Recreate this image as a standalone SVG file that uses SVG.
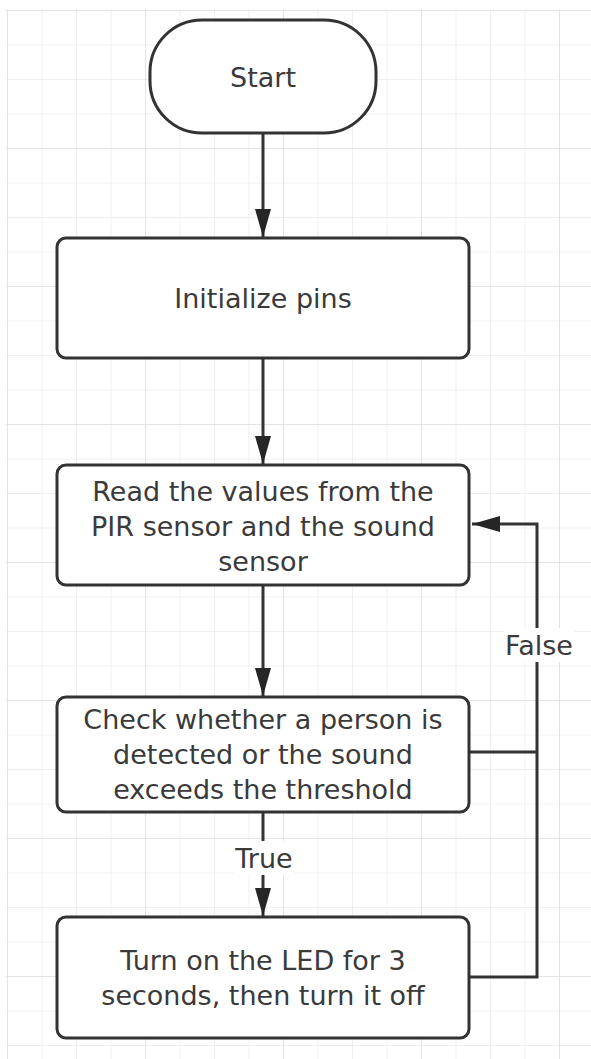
<svg xmlns="http://www.w3.org/2000/svg" width="591" height="1059" viewBox="0 0 591 1059">
  <defs>
    <!-- background grid: minor cells 34.5px, heavier line every 4 cells -->
    <pattern id="grid-minor" x="7" y="10" width="34.5" height="34.5" patternUnits="userSpaceOnUse">
      <path d="M 0 0 H 34.5 M 0 0 V 34.5" fill="none" stroke="#ebebeb" stroke-width="1.5"/>
    </pattern>
    <pattern id="grid-major" x="7" y="10" width="138" height="138" patternUnits="userSpaceOnUse">
      <path d="M 0 0 H 138 M 0 0 V 138" fill="none" stroke="#e1e1e1" stroke-width="1.5"/>
    </pattern>
    <marker id="arrow" viewBox="0 0 28 16" refX="28" refY="8" markerWidth="28" markerHeight="16" markerUnits="userSpaceOnUse" orient="auto">
      <path d="M 0 0 L 28 8 L 0 16 Z" fill="#262626"/>
    </marker>
    <style>
      .node { fill: #ffffff; stroke: #333333; stroke-width: 3; }
      .label { font-family: "DejaVu Sans", "Open Sans", sans-serif; font-size: 27px; fill: #3a3a3a; text-anchor: middle; dominant-baseline: central; }
      .edge { fill: none; stroke: #333333; stroke-width: 3; }
      .edge-label-bg { fill: #ffffff; }
    </style>
  </defs>

  <rect x="0" y="0" width="591" height="1059" fill="#ffffff"/>
  <rect x="6" y="9" width="585" height="1050" fill="url(#grid-minor)"/>
  <rect x="6" y="9" width="585" height="1050" fill="url(#grid-major)"/>

  <!-- connectors -->
  <g id="connectors">
    <line class="edge" x1="263" y1="133" x2="263" y2="237" marker-end="url(#arrow)"/>
    <line class="edge" x1="263" y1="358" x2="263" y2="464" marker-end="url(#arrow)"/>
    <line class="edge" x1="263" y1="585" x2="263" y2="696" marker-end="url(#arrow)"/>
    <line class="edge" x1="263" y1="812" x2="263" y2="916" marker-end="url(#arrow)"/>
    <polyline class="edge" points="470,977 537,977 537,524 472,524" marker-end="url(#arrow)"/>
    <line class="edge" x1="470" y1="752" x2="537" y2="752"/>
    <rect class="edge-label-bg" x="234" y="841" width="60" height="34"/>
    <text class="label" x="264" y="858">True</text>
    <rect class="edge-label-bg" x="504" y="628" width="70" height="34"/>
    <text class="label" x="539" y="645">False</text>
  </g>

  <g id="start">
    <rect class="node" x="150" y="20" width="226" height="113" rx="52" ry="52"/>
    <text class="label" x="263" y="77">Start</text>
  </g>

  <g id="init-pins">
    <rect class="node" x="57" y="238" width="412" height="120" rx="9" ry="9"/>
    <text class="label" x="263" y="298">Initialize pins</text>
  </g>

  <g id="read-sensors">
    <rect class="node" x="57" y="465" width="412" height="120" rx="9" ry="9"/>
    <text class="label" x="263" y="491">Read the values from the</text>
    <text class="label" x="263" y="526">PIR sensor and the sound</text>
    <text class="label" x="263" y="561">sensor</text>
  </g>

  <g id="check-threshold">
    <rect class="node" x="57" y="697" width="412" height="115" rx="9" ry="9"/>
    <text class="label" x="263" y="719">Check whether a person is</text>
    <text class="label" x="263" y="754">detected or the sound</text>
    <text class="label" x="263" y="789">exceeds the threshold</text>
  </g>

  <g id="led-on">
    <rect class="node" x="57" y="917" width="412" height="121" rx="9" ry="9"/>
    <text class="label" x="263" y="960">Turn on the LED for 3</text>
    <text class="label" x="263" y="995">seconds, then turn it off</text>
  </g>
</svg>
